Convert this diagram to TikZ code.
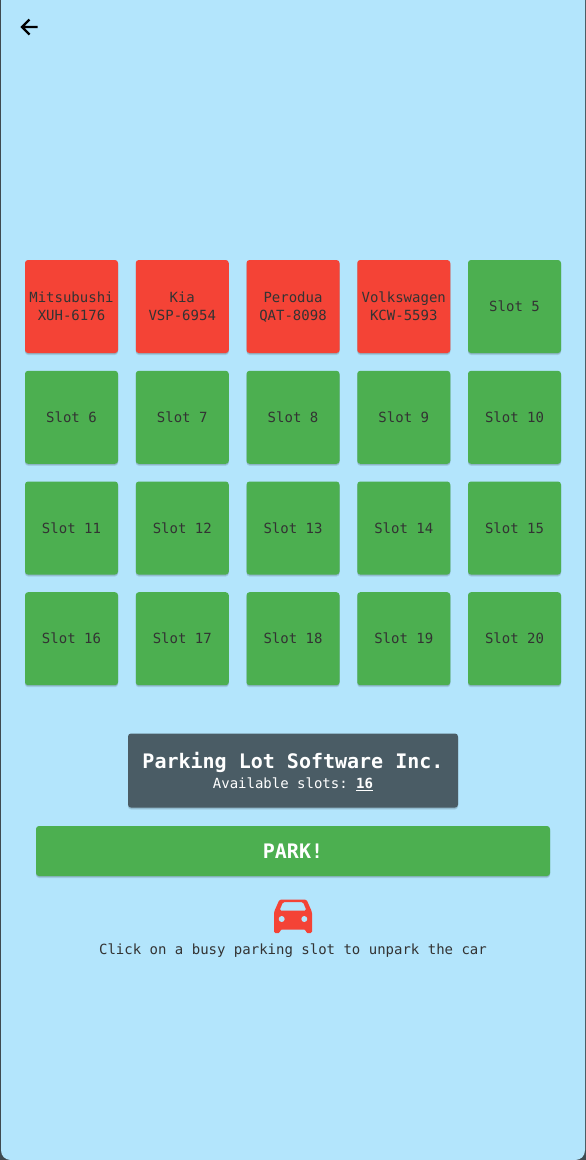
\documentclass[tikz,border=0pt]{standalone}
\usepackage{fontspec}
\setmonofont{DejaVu Sans Mono}
\definecolor{pagebg}{HTML}{B3E5FC}
\definecolor{busy}{HTML}{F44336}
\definecolor{free}{HTML}{4CAF50}
\definecolor{panel}{HTML}{4A5C65}
\definecolor{edgeline}{HTML}{3F4A50}
\newcommand{\slotfont}{\fontsize{14}{17.5}\selectfont\ttfamily}
\newcommand{\twolines}[2]{\vphantom{Ag}#1\\\vphantom{Ag}#2\\[-16.5pt]\mbox{}}
\tikzset{
  x=1pt,y=-1pt,
  drop/.style={preaction={fill=black,opacity=.10,transform canvas={yshift=-2pt}},
               preaction={fill=black,opacity=.12,transform canvas={yshift=-1pt}}},
  cell/.style={minimum width=93pt,minimum height=93pt,inner sep=0pt,rounded corners=3pt,
    align=center,text=black!80,font=\slotfont,drop},
  busycell/.style={cell,fill=busy},
  freecell/.style={cell,fill=free},
  bottomtext/.style={text=black!80,font=\fontsize{14}{18}\selectfont\ttfamily,inner sep=0pt},
}
\begin{document}
\begin{tikzpicture}
\useasboundingbox (0,0) rectangle (586,1160);
\fill[edgeline] (0,0) rectangle (586,1160);
\fill[pagebg] (1,-5) -- (1,1150) .. controls (1,1156) and (5,1160) .. (11,1160) -- (575,1160) .. controls (581,1160) and (585,1156) .. (585,1150) -- (585,-5) -- cycle;
% back arrow
\draw[black,line width=2.2pt] (37.5,27) -- (22,27) (29.5,19.5) -- (22,27) -- (29.5,34.5);
% slots
\node[busycell] (s1) at (71.5,306.5) {\twolines{Mitsubushi}{XUH-6176}};
\node[busycell] (s2) at (182.25,306.5) {\twolines{Kia}{VSP-6954}};
\node[busycell] (s3) at (293,306.5) {\twolines{Perodua}{QAT-8098}};
\node[busycell] (s4) at (403.75,306.5) {\twolines{Volkswagen}{KCW-5593}};
\node[freecell] (s5) at (514.5,306.5) {Slot 5};
\node[freecell] (s6) at (71.5,417.3) {Slot 6};
\node[freecell] (s7) at (182.25,417.3) {Slot 7};
\node[freecell] (s8) at (293,417.3) {Slot 8};
\node[freecell] (s9) at (403.75,417.3) {Slot 9};
\node[freecell] (s10) at (514.5,417.3) {Slot 10};
\node[freecell] (s11) at (71.5,528) {Slot 11};
\node[freecell] (s12) at (182.25,528) {Slot 12};
\node[freecell] (s13) at (293,528) {Slot 13};
\node[freecell] (s14) at (403.75,528) {Slot 14};
\node[freecell] (s15) at (514.5,528) {Slot 15};
\node[freecell] (s16) at (71.5,638.7) {Slot 16};
\node[freecell] (s17) at (182.25,638.7) {Slot 17};
\node[freecell] (s18) at (293,638.7) {Slot 18};
\node[freecell] (s19) at (403.75,638.7) {Slot 19};
\node[freecell] (s20) at (514.5,638.7) {Slot 20};
% panel
\node[drop,fill=panel,rounded corners=3pt,minimum width=330pt,minimum height=74pt,inner sep=0pt] (panel) at (293,770.5) {};
\node[text=white,font=\fontsize{20}{24}\selectfont\ttfamily\bfseries,inner sep=0pt] (title) at (293,762) {Parking Lot Software Inc.};
\node[text=white,font=\fontsize{14}{17}\selectfont\ttfamily,inner sep=0pt] (avail) at (293,784) {Available slots: \textbf{\underline{16}}};
% button
\node[drop,fill=free,rounded corners=3pt,minimum width=514pt,minimum height=50pt,inner sep=0pt,text=white,font=\fontsize{20}{24}\selectfont\ttfamily\bfseries] (park) at (293,851) {PARK!};
% car icon
\fill[busy,rounded corners=1.5pt,even odd rule]
  (274,933) -- (274,912) -- (279.5,899.5) -- (306.5,899.5) -- (312,912) -- (312,933) -- (306,933) -- (306,929.5) -- (280,929.5) -- (280,933) -- cycle
  (279.5,910.5) -- (306.5,910.5) -- (303,902) -- (283,902) -- cycle;
\fill[pagebg] (281.7,919) circle (3pt) (304.3,919) circle (3pt);
\node[bottomtext] (hint) at (293,951) {Click on a busy parking slot to unpark the car};
\end{tikzpicture}
\end{document}
